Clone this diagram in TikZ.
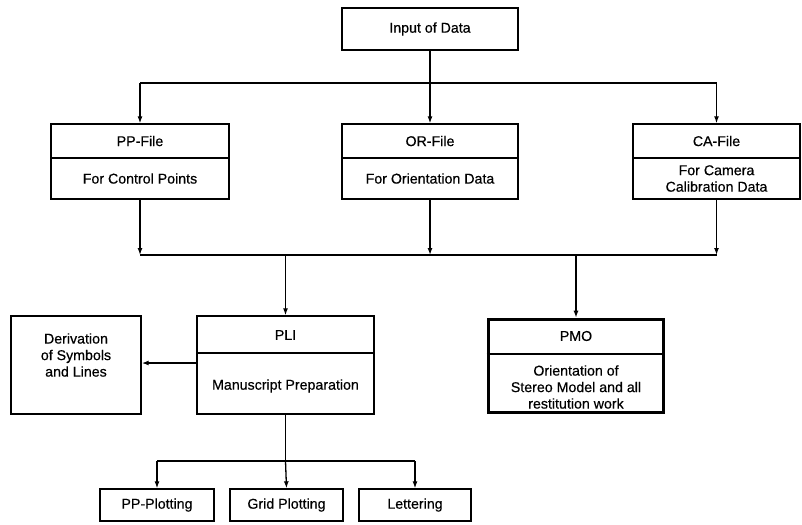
\documentclass[tikz,border=0pt]{standalone}
\usepackage{fontspec}
\setmainfont{Liberation Sans}
\newfontfamily\diagfont{Liberation Sans}[FakeBold=0.5]
\usetikzlibrary{arrows.meta}
\begin{document}
\begin{tikzpicture}[x=1pt,y=-1pt,
  frame/.style={draw, line width=1.4pt, inner sep=0pt},
  thickframe/.style={draw, line width=3.6pt, inner sep=0pt},
  txt/.style={inner sep=0pt, align=center, font=\diagfont\fontsize{14.2}{16.5}\selectfont},
  conn/.style={line width=1.3pt},
  bus/.style={line width=2pt},
  arr/.style={line width=1.3pt, -{Latex[length=7pt,width=5pt]}},
  divider/.style={line width=1.4pt}]
\useasboundingbox (0,0) rectangle (802,524);

% Input
\node[frame, minimum width=176pt, minimum height=42pt] (in) at (430,29) {};
\node[txt] (intxt) at (430,29) {Input of Data};

% PP-File
\node[frame, minimum width=178pt, minimum height=75pt] (pp) at (140,161.5) {};
\node[txt] (pph) at (140,141) {PP-File};
\node[txt] (ppb) at (140,178.5) {For Control Points};
\draw[divider] (pp.west |- 0,158) -- (pp.east |- 0,158);

% OR-File
\node[frame, minimum width=176pt, minimum height=75pt] (or) at (430,161.5) {};
\node[txt] (orh) at (430,141) {OR-File};
\node[txt] (orb) at (430,178.5) {For Orientation Data};
\draw[divider] (or.west |- 0,158) -- (or.east |- 0,158);

% CA-File
\node[frame, minimum width=167pt, minimum height=75pt] (ca) at (716.5,161.5) {};
\node[txt] (cah) at (716.5,141) {CA-File};
\node[txt] (cab) at (716.5,178.5) {For Camera\\Calibration Data};
\draw[divider] (ca.west |- 0,158) -- (ca.east |- 0,158);

% Derivation
\node[frame, minimum width=130pt, minimum height=98pt] (der) at (76,365) {};
\node[txt] (dertxt) at (76,355) {Derivation\\of Symbols\\and Lines};

% PLI
\node[frame, minimum width=177pt, minimum height=98pt] (pli) at (285.5,365) {};
\node[txt] (plih) at (285.5,335) {PLI};
\node[txt] (plib) at (285.5,386) {Manuscript Preparation};
\draw[divider] (pli.west |- 0,353) -- (pli.east |- 0,353);

% PMO
\node[thickframe, minimum width=175pt, minimum height=93pt] (pmo) at (576,366) {};
\node[txt] (pmoh) at (576,336) {PMO};
\node[txt] (pmob) at (576,387) {Orientation of\\Stereo Model and all\\restitution work};
\draw[line width=1.6pt] (pmo.west |- 0,354) -- (pmo.east |- 0,354);

% bottom row
\node[frame, minimum width=114pt, minimum height=32pt] (ppp) at (157,505) {};
\node[txt] (ppptxt) at (157,505) {PP-Plotting};
\node[frame, minimum width=113pt, minimum height=32pt] (grid) at (286.5,505) {};
\node[txt] (gridtxt) at (286.5,505) {Grid Plotting};
\node[frame, minimum width=112pt, minimum height=32pt] (let) at (415,505) {};
\node[txt] (lettxt) at (415,505) {Lettering};

% connectors top
\coordinate (top) at (430,83);
\draw[conn] (in.south) -- (top);
\draw[bus] (pp.north |- top) -- (ca.north |- top);
\draw[arr] (pp.north |- top) -- (pp.north);
\draw[arr] (top) -- (or.north);
\draw[arr] (ca.north |- top) -- (ca.north);

% connectors middle
\coordinate (bot) at (430,255);
\draw[arr] (pp.south) -- (pp.south |- bot);
\draw[arr] (or.south) -- (bot);
\draw[arr] (ca.south) -- (ca.south |- bot);
\draw[bus] (pp.south |- bot) -- (ca.south |- bot);
\draw[arr] (pli.north |- bot) -- (pli.north);
\draw[arr] (pmo.north |- bot) -- (pmo.north);

% PLI to derivation
\draw[arr, line width=1.8pt] (pli.west |- 0,363) -- (der.east |- 0,363);

% lower tree
\coordinate (low) at (285.5,461);
\draw[conn] (pli.south) -- (low);
\draw[bus] (ppp.north |- low) -- (let.north |- low);
\draw[arr] (ppp.north |- low) -- (ppp.north);
\draw[arr] (low) -- (grid.north);
\draw[arr] (let.north |- low) -- (let.north);
\end{tikzpicture}
\end{document}
